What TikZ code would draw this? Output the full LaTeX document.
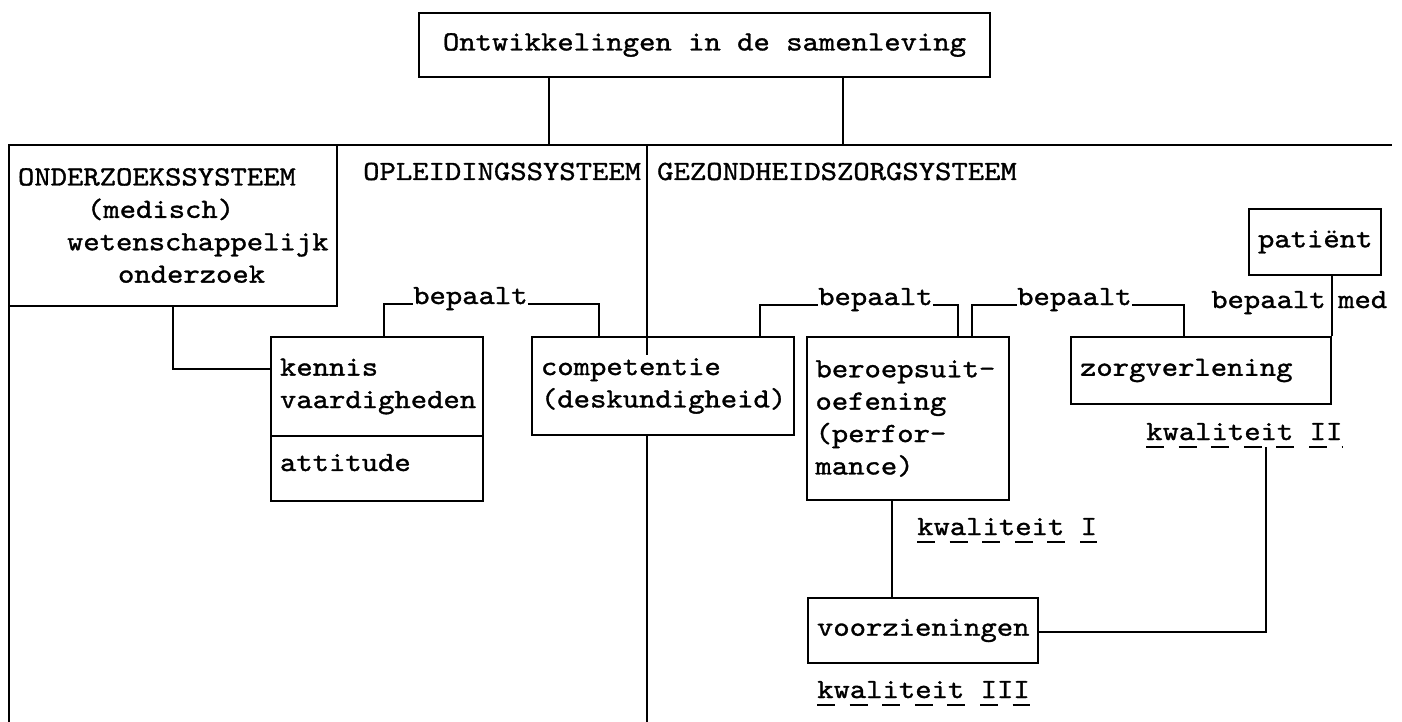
\documentclass[tikz,border=0pt]{standalone}
\usepackage{fontspec}
\newfontfamily\typewriter{lmmono10-regular.otf}[FakeStretch=1.12,FakeBold=1.2]
\hyphenpenalty=10000
\exhyphenpenalty=10000
\begin{document}
\begin{tikzpicture}
  [x=1pt,y=-1pt,
   every node/.style={font=\typewriter\fontsize{27.8}{32.4}\selectfont},
   box/.style={draw,line width=2pt,inner xsep=9pt,inner ysep=0pt,align=left},
   word/.style={inner sep=0pt,anchor=base west},
   frame/.style={line width=2pt},
   conn/.style={line width=1.5pt},
   uline/.style={line width=1.8pt,dash pattern=on 18pt off 14.6pt}]
  \useasboundingbox (0,0) rectangle (1402,722);
  % main system lines
  \coordinate (sysL) at (9,145);
  \coordinate (sysR) at (1392,145);
  \coordinate (colL) at (9,722);
  \coordinate (jA) at (549,145);
  \coordinate (jB) at (843,145);
  \coordinate (jC) at (647,145);
  \coordinate (jCin) at (647,355);
  \draw[frame] (colL) -- (sysL) -- (sysR);
  % boxes
  \node[box,align=center,minimum width=571pt,minimum height=64pt] (top) at (704.5,45) {Ontwikkelingen in de samenleving};
  \node[box,text width=310pt,minimum height=161pt] (oz) at (173,225.5) {ONDERZOEKSSYSTEEM\\\hspace*{69pt}(medisch)\\\hspace*{49pt}wetenschappelijk\\\hspace*{100pt}onderzoek};
  \node[box,text width=194pt,minimum height=99pt] (kennis) at (377,386.5) {kennis\\vaardigheden};
  \node[box,text width=194pt,minimum height=65pt] (attitude) at (377,468.5) {attitude\rule[-12pt]{0pt}{12pt}};
  \node[box,text width=244pt,minimum height=98pt] (comp) at (663,386) {competentie\\(deskundigheid)};
  \node[box,text width=184pt,minimum height=163pt] (berup) at (907.5,418.5) {beroepsuit-\\oefening\\(perfor-\\mance)};
  \node[box,text width=242pt,minimum height=67pt] (zorg) at (1201,370.5) {zorgverlening};
  \node[box,text width=114pt,minimum height=66pt] (patient) at (1315,242) {patiënt};
  \node[box,text width=212pt,minimum height=65pt] (voorz) at (923,630.5) {voorzieningen};
  % loose texts
  \node[word] (opl) at (363,180) {OPLEIDINGSSYSTEEM};
  \node[word] (gez) at (657,180) {GEZONDHEIDSZORGSYSTEEM};
  \node[word] (bep1) at (413,304) {bepaalt};
  \node[word] (bep2) at (818,305) {bepaalt};
  \node[word] (bep3) at (1017,305) {bepaalt};
  \node[word] (bep4) at (1211,308) {bepaalt};
  \node[word] (med) at (1338,308) {med};
  \node[word] (kwal1) at (917,535) {kwaliteit I};
  \node[word] (kwal2) at (1146,440) {kwaliteit II};
  \node[word] (kwal3) at (817,698) {kwaliteit III};
  % connectors
  \path[draw,conn]
    (top.south -| jA) edge (jA)
    (top.south -| jB) edge (jB)
    (jC) edge (jCin)
    (comp.south -| jC) edge (jC |- colL);
  \draw[conn] (oz.south) |- ([yshift=17.5pt]kennis.west);
  \draw[conn] ([xshift=7pt]kennis.north) |- (bep1.base west);
  \draw[conn] (bep1.base east) -| ([xshift=-64pt]comp.north);
  \draw[conn] ([xshift=97pt]comp.north) |- (bep2.base west);
  \draw[conn] (bep2.base east) -| ([xshift=50.5pt]berup.north);
  \draw[conn] ([xshift=64.5pt]berup.north) |- (bep3.base west);
  \draw[conn] (bep3.base east) -| ([xshift=-17pt]zorg.north);
  \draw[conn] (patient.south -| zorg.north east) -- (zorg.north east);
  \draw[conn] ([xshift=-15.5pt]berup.south) -- ([xshift=-31pt]voorz.north);
  \draw[conn] ([yshift=-1.5pt]voorz.east) -| ([xshift=120pt,yshift=-7pt]kwal2.base west);
  % dashed underlines
  \foreach \q in {kwal1,kwal2,kwal3}
    \draw[uline] ([yshift=-7pt]\q.base west) -- ([yshift=-7pt]\q.base east);
\end{tikzpicture}
\end{document}
